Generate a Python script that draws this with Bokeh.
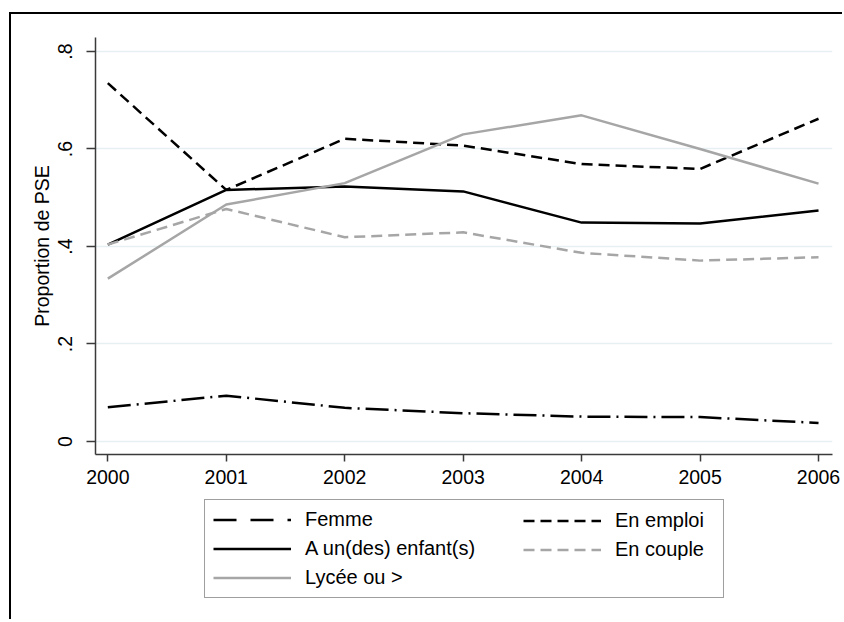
from bokeh.plotting import figure
from bokeh.models import Range1d, FixedTicker, Legend, LegendItem
from bokeh.layouts import column
from bokeh.embed import file_html
from bokeh.resources import INLINE

# ---- data ----
years = [2000, 2001, 2002, 2003, 2004, 2005, 2006]
femme = [0.070, 0.094, 0.069, 0.058, 0.051, 0.050, 0.038]
en_emploi = [0.735, 0.516, 0.621, 0.607, 0.569, 0.559, 0.662]
enfants = [0.404, 0.516, 0.523, 0.513, 0.449, 0.447, 0.474]
en_couple = [0.404, 0.477, 0.419, 0.429, 0.387, 0.371, 0.378]
lycee = [0.334, 0.486, 0.530, 0.630, 0.669, 0.600, 0.529]

y_ticks = [0.0, 0.2, 0.4, 0.6, 0.8]
y_tick_labels = ["0", ".2", ".4", ".6", ".8"]
x_ticks = years
y_axis_title = "Proportion de PSE"

FONT = "Liberation Sans"
FS = "19.5px"
LFS = "20px"

# series styles: (name, values, plot style, legend-sample dash)
series = [
    ("Femme", femme, dict(line_color="black", line_width=2.5, line_dash="23 6 2 6"), "23 14 23 14 5 14"),
    ("En emploi", en_emploi, dict(line_color="black", line_width=2.5, line_dash="11 6"), "11 6"),
    ("A un(des) enfant(s)", enfants, dict(line_color="black", line_width=2.5), "solid"),
    ("En couple", en_couple, dict(line_color="#a6a6a6", line_width=2.5, line_dash="11 6"), "11 6"),
    ("Lycée ou >", lycee, dict(line_color="#a6a6a6", line_width=2.5), "solid"),
]

# ---------------- main plot ----------------
p = figure(
    width=833, height=476,
    x_range=Range1d(1999.896, 2006.118),
    y_range=Range1d(-0.0267, 0.8287),
    output_backend="svg", toolbar_location=None,
    min_border_left=84, min_border_right=12,
    min_border_top=23, min_border_bottom=36,
)
p.styles = {
    "margin-left": "9px", "margin-top": "12px",
    "border-left": "2px solid black", "border-top": "2px solid black",
}
p.outline_line_color = None
p.background_fill_color = "white"
p.border_fill_color = "white"

for ax in (p.xaxis[0], p.yaxis[0]):
    ax.axis_line_color = "#3a3a3a"
    ax.axis_line_width = 1.5
    ax.major_tick_line_color = "#3a3a3a"
    ax.major_tick_line_width = 1.5
    ax.major_tick_in = 0
    ax.minor_tick_line_color = None
    ax.major_label_text_font = FONT
    ax.major_label_text_font_size = FS
    ax.major_label_text_color = "black"

p.xaxis.ticker = FixedTicker(ticks=x_ticks)
p.xaxis.major_tick_out = 7
p.xaxis.major_label_standoff = 8

p.yaxis.ticker = FixedTicker(ticks=y_ticks)
p.yaxis.major_label_overrides = {t: s for t, s in zip(y_ticks, y_tick_labels)}
p.yaxis.major_label_orientation = "vertical"
p.yaxis.major_tick_out = 9
p.yaxis.major_label_standoff = 14
p.yaxis.axis_label = y_axis_title
p.yaxis.axis_label_text_font = FONT
p.yaxis.axis_label_text_font_size = FS
p.yaxis.axis_label_text_font_style = "normal"
p.yaxis.axis_label_text_color = "black"
p.yaxis.axis_label_standoff = 3

p.xgrid.visible = False
p.ygrid.grid_line_color = "#e6eff1"
p.ygrid.grid_line_width = 1.5

for name, vals, st, _ in series:
    p.line(years, vals, **st)

# ---------------- legend area ----------------
# same series, drawn outside this panel's visible range: only the legend shows
pl = figure(
    width=833, height=131,
    x_range=Range1d(0, 1), y_range=Range1d(0, 1),
    output_backend="svg", toolbar_location=None,
    x_axis_type=None, y_axis_type=None,
    min_border_left=0, min_border_right=0, min_border_top=0, min_border_bottom=0,
)
pl.styles = {"margin-left": "9px", "border-left": "2px solid black"}
pl.outline_line_color = None
pl.background_fill_color = "white"
pl.border_fill_color = "white"
pl.grid.visible = False

leg_r = {}
for name, vals, st, ldash in series:
    st2 = dict(st)
    st2["line_dash"] = ldash
    leg_r[name] = pl.line(years, vals, **st2)

common = dict(
    orientation="vertical", glyph_width=78, glyph_height=23, label_height=23,
    label_standoff=14, spacing=6, padding=8, margin=0,
    label_text_font=FONT, label_text_font_size=LFS, label_text_color="black",
)

leg1 = Legend(
    items=[LegendItem(label=n, renderers=[leg_r[n]])
           for n in ("Femme", "A un(des) enfant(s)", "Lycée ou >")],
    location=(109, 21), label_width=410,
    border_line_color="#404040", border_line_width=1.2,
    background_fill_color="white", background_fill_alpha=1.0,
    **common,
)
leg2 = Legend(
    items=[LegendItem(label=n, renderers=[leg_r[n]])
           for n in ("En emploi", "En couple")],
    location=(428, 58),
    border_line_color=None, background_fill_alpha=0.0,
    **common,
)
pl.add_layout(leg1, "center")
pl.add_layout(leg2, "center")

layout = column(p, pl, spacing=0)
open("out.html", "w").write(file_html(layout, INLINE))
